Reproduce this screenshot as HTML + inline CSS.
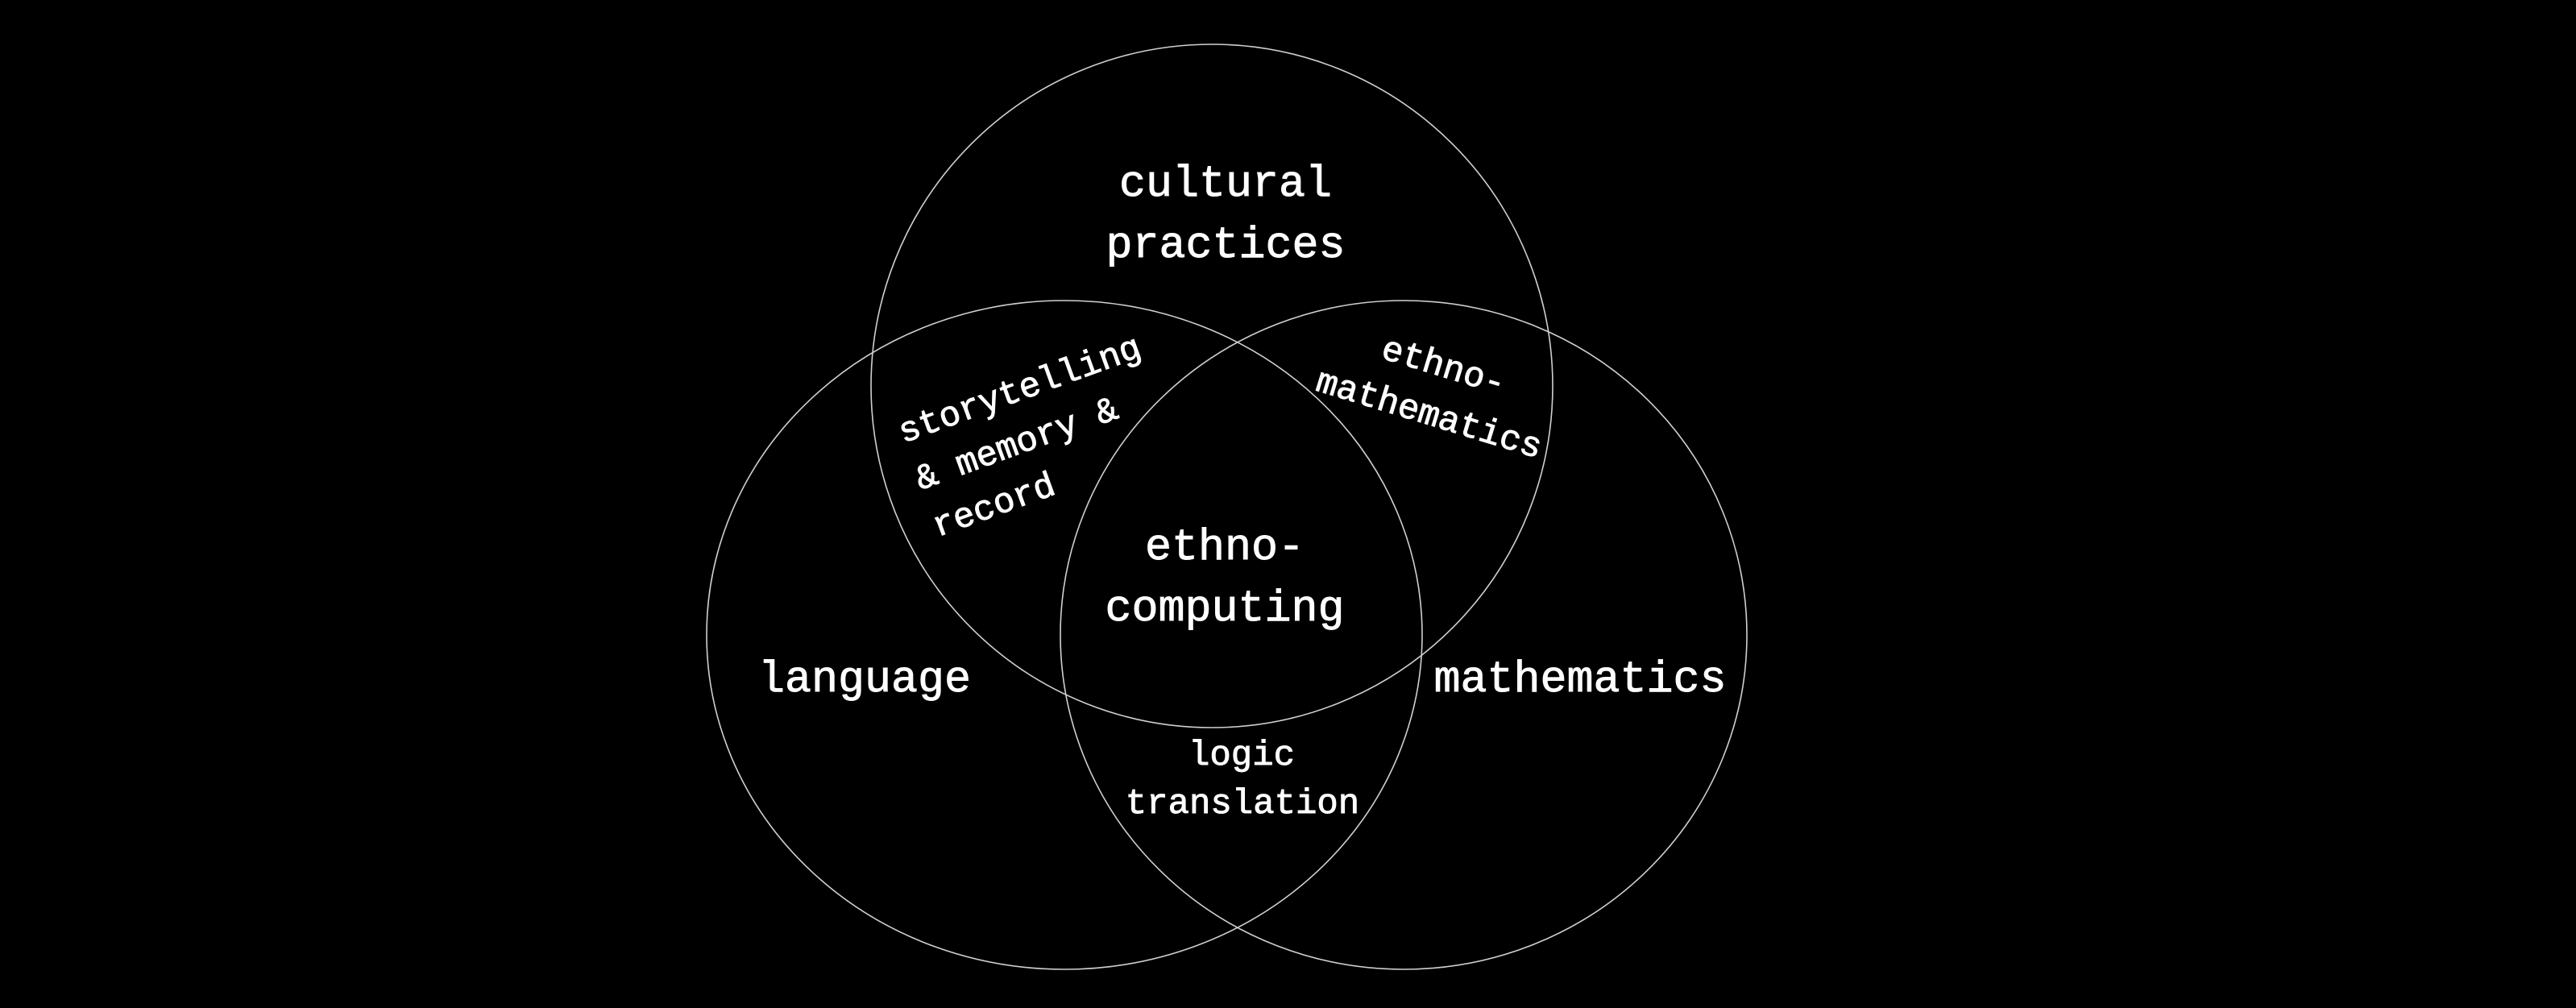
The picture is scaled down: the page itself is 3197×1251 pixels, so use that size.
<!DOCTYPE html>
<html><head><style>
html,body{margin:0;padding:0;background:#000;}
svg{display:block;}
text{font-family:"Liberation Mono",monospace;fill:#fff;stroke:#fff;stroke-width:0.9;}
</style></head><body>
<svg width="3197" height="1251" viewBox="0 0 3197 1251" xmlns="http://www.w3.org/2000/svg">
<rect width="3197" height="1251" fill="#000"/>
<g fill="none" stroke="#d0d0d0" stroke-width="1.6">
<ellipse cx="1504" cy="479" rx="423" ry="424"/>
<ellipse cx="1321" cy="788" rx="444" ry="415"/>
<ellipse cx="1742" cy="788" rx="426" ry="415"/>
</g>
<g font-size="55" text-anchor="middle">
<text x="1521" y="243">cultural</text>
<text x="1521" y="319">practices</text>
<text x="1520" y="694">ethno-</text>
<text x="1520" y="770">computing</text>
<text x="1073" y="858">language</text>
<text x="1961" y="858">mathematics</text>
</g>
<g font-size="44" text-anchor="middle">
<text x="1541" y="949">logic</text>
<text x="1542" y="1009">translation</text>
</g>
<g font-size="44" transform="translate(1121,550) rotate(-20)">
<text x="0" y="0">storytelling</text>
<text x="0" y="62">&amp; memory &amp;</text>
<text x="0" y="124">record</text>
</g>
<g font-size="44" text-anchor="middle" transform="translate(1788,467) rotate(17)">
<text x="0" y="0">ethno-</text>
<text x="0" y="62">mathematics</text>
</g>
</svg>
</body></html>
